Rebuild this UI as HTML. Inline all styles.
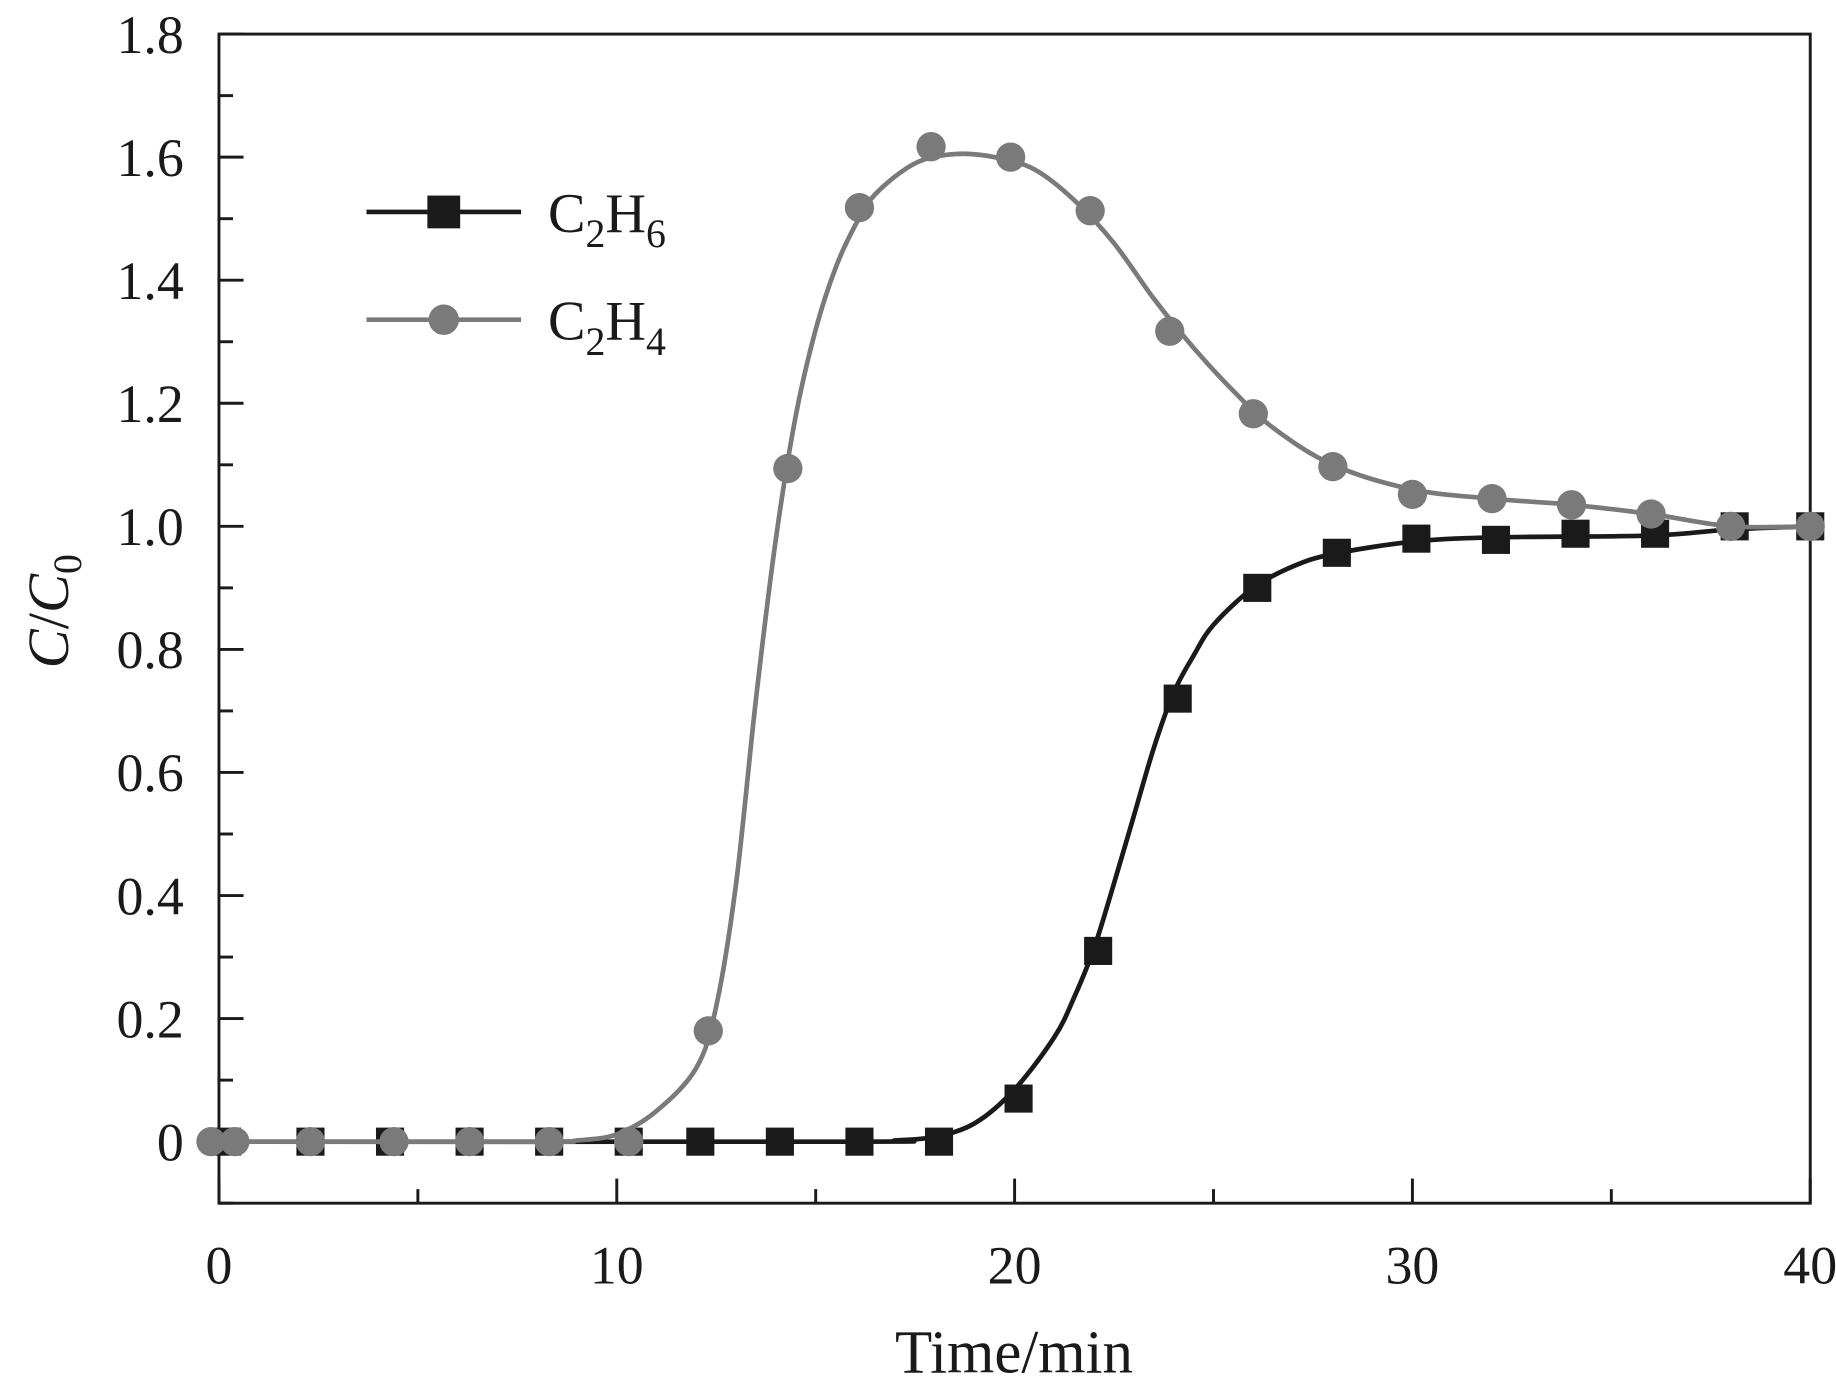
<!DOCTYPE html>
<html><head><meta charset="utf-8"><style>
html,body{margin:0;padding:0;background:#fff;}
svg{display:block;}
text{font-family:"Liberation Serif",serif;fill:#1a1a1a;}
</style></head><body>
<svg id="chart" width="1836" height="1394" viewBox="0 0 1568 1190.5" xmlns="http://www.w3.org/2000/svg">
<g id="axes"></g>
<g id="series"></g>
<g id="legend">
  <line x1="313" y1="181" x2="445" y2="181" stroke="#1a1a1a" stroke-width="4"/>
  <rect x="365" y="167" width="28" height="28" fill="#1a1a1a"/>
  <text x="468" y="198" font-size="48">C<tspan font-size="34" dy="13">2</tspan><tspan dy="-13">H</tspan><tspan font-size="34" dy="13">6</tspan></text>
  <line x1="313" y1="273" x2="445" y2="273" stroke="#7a7a7a" stroke-width="4"/>
  <circle cx="379" cy="273" r="13" fill="#7a7a7a"/>
  <text x="468" y="290" font-size="48">C<tspan font-size="34" dy="13">2</tspan><tspan dy="-13">H</tspan><tspan font-size="34" dy="13">4</tspan></text>
</g>
<text x="866" y="1172" font-size="52" text-anchor="middle">Time/min</text>
<text transform="translate(58,522) rotate(-90)" font-size="50" text-anchor="middle"><tspan font-style="italic">C</tspan>/<tspan font-style="italic">C</tspan><tspan font-size="34" dy="11">0</tspan></text>
</svg>
<script>
const xTicks = [0, 10, 20, 30, 40];
const yTicks = [0, 0.2, 0.4, 0.6, 0.8, 1.0, 1.2, 1.4, 1.6, 1.8];
const yTickLabels = ["0", "0.2", "0.4", "0.6", "0.8", "1.0", "1.2", "1.4", "1.6", "1.8"];
const c2h6T = [0.2, 2.3, 4.3, 6.3, 8.3, 10.3, 12.1, 14.1, 16.1, 18.1, 20.1, 22.1, 24.1, 26.1, 28.1, 30.1, 32.1, 34.1, 36.1, 38.1, 40];
const c2h6V = [0, 0, 0, 0, 0, 0, 0, 0, 0, 0, 0.07, 0.31, 0.72, 0.90, 0.957, 0.98, 0.978, 0.988, 0.988, 1.0, 1.0];
const c2h4T = [-0.2, 0.4, 2.3, 4.4, 6.3, 8.3, 10.3, 12.3, 14.3, 16.1, 17.9, 19.9, 21.9, 23.9, 26, 28, 30, 32, 34, 36, 38, 40];
const c2h4V = [0, 0, 0, 0, 0, 0, 0, 0.18, 1.094, 1.518, 1.617, 1.60, 1.513, 1.317, 1.183, 1.097, 1.052, 1.045, 1.035, 1.02, 1.0, 1.0];
const fit6T = [0, 16, 17, 18, 19, 20, 21, 21.5, 22, 22.5, 23, 23.5, 24, 24.5, 25, 26, 27, 28, 30, 32, 36, 38, 40];
const fit6V = [0, 0, 0.002, 0.008, 0.03, 0.085, 0.17, 0.235, 0.315, 0.42, 0.53, 0.64, 0.73, 0.79, 0.84, 0.90, 0.935, 0.955, 0.975, 0.982, 0.985, 0.995, 1.0];
const fit4T = [0, 8, 9, 10, 11, 12, 12.5, 13, 13.5, 14, 14.5, 15, 15.5, 16, 16.5, 17.5, 18.5, 19.5, 20.5, 21.5, 22.5, 23.5, 24.5, 25.5, 26.5, 28, 30, 32, 34, 36, 38, 40];
const fit4V = [0, 0, 0.002, 0.012, 0.05, 0.12, 0.22, 0.42, 0.72, 0.98, 1.18, 1.32, 1.42, 1.49, 1.54, 1.59, 1.605, 1.60, 1.58, 1.53, 1.46, 1.37, 1.29, 1.22, 1.16, 1.10, 1.06, 1.045, 1.035, 1.02, 1.0, 1.0];

const NS = "http://www.w3.org/2000/svg";
const X0 = 187, X1 = 1546, Y0 = 975, YPER = 105.1 / 0.2;
function sx(t){ return X0 + (t / 40) * (X1 - X0); }
function sy(v){ return Y0 - v * YPER; }
function mk(tag, attrs, parent){
  const e = document.createElementNS(NS, tag);
  for (const k in attrs) e.setAttribute(k, attrs[k]);
  parent.appendChild(e); return e;
}
const axesG = document.getElementById('axes');
const seriesG = document.getElementById('series');
const yTop = sy(1.8), yBot = sy(-0.1);
const frame = mk('rect', {x: X0, y: yTop, width: X1 - X0, height: yBot - yTop, fill: 'none', stroke: '#1a1a1a', 'stroke-width': 2.5}, axesG);


for (let t = 0; t <= 40; t += 5) {
  const major = t % 10 === 0;
  const tk = mk('line', {x1: sx(t), x2: sx(t), y1: yBot, y2: yBot - (major ? 21 : 12), stroke: '#1a1a1a', 'stroke-width': 2.5}, axesG);
  
  
}
xTicks.forEach(t => {
  const lb = mk('text', {x: sx(t), y: 1096, 'font-size': 46, 'text-anchor': 'middle'}, axesG);
  lb.textContent = String(t);
  
  
});
for (let i = -1; i <= 18; i++) {
  const v = i / 10, major = i % 2 === 0;
  const tk = mk('line', {x1: X0, x2: X0 + (major ? 21 : 12), y1: sy(v), y2: sy(v), stroke: '#1a1a1a', 'stroke-width': 2.5}, axesG);
  
  
}
yTicks.forEach((v, i) => {
  const lb = mk('text', {x: 157, y: sy(v) + 16, 'font-size': 46, 'text-anchor': 'end'}, axesG);
  lb.textContent = yTickLabels[i];
  
  
});
function smoothPath(T, V){
  const P = T.map((t, i) => [sx(t), sy(V[i])]);
  let d = 'M' + P[0][0] + ',' + P[0][1];
  for (let i = 0; i < P.length - 1; i++) {
    const p0 = P[i - 1] || P[i], p1 = P[i], p2 = P[i + 1], p3 = P[i + 2] || P[i + 1];
    const c1 = [p1[0] + (p2[0] - p0[0]) / 6, p1[1] + (p2[1] - p0[1]) / 6];
    const c2 = [p2[0] - (p3[0] - p1[0]) / 6, p2[1] - (p3[1] - p1[1]) / 6];
    d += ' C' + c1.join(',') + ' ' + c2.join(',') + ' ' + p2.join(',');
  }
  return d;
}
const f6 = mk('path', {d: smoothPath(fit6T, fit6V), fill: 'none', stroke: '#1a1a1a', 'stroke-width': 4}, seriesG);


c2h6T.forEach((t, i) => {
  const r = mk('rect', {x: sx(t) - 12, y: sy(c2h6V[i]) - 12, width: 24, height: 24, fill: '#1a1a1a'}, seriesG);
  
  
});
const f4 = mk('path', {d: smoothPath(fit4T, fit4V), fill: 'none', stroke: '#7a7a7a', 'stroke-width': 4}, seriesG);


c2h4T.forEach((t, i) => {
  const c = mk('circle', {cx: sx(t), cy: sy(c2h4V[i]), r: 12.5, fill: '#7a7a7a'}, seriesG);
  
  
});
</script>
</body></html>
